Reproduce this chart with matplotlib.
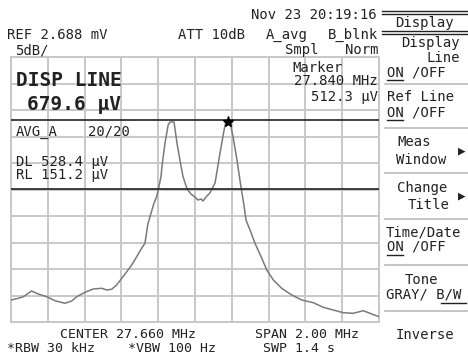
import numpy as np
import matplotlib
matplotlib.use("Agg")
import matplotlib.pyplot as plt
from matplotlib.lines import Line2D

# spectrum analyser screen: levels in dB relative to REF
ref_mv = 2.688
center_mhz = 27.660
span_mhz = 2.00
db_per_div = 5
disp_line_uv = 679.6
ref_line_uv = 151.2
marker_mhz = 27.840

freq = [26.660, 26.700, 26.727, 26.772, 26.808, 26.854, 26.899, 26.953, 26.990,
        27.017, 27.062, 27.107, 27.153, 27.180, 27.207, 27.234, 27.262, 27.289,
        27.316, 27.343, 27.370, 27.388, 27.404, 27.420, 27.436, 27.452, 27.465,
        27.475, 27.481, 27.497, 27.514, 27.524, 27.546, 27.562, 27.578, 27.595,
        27.617, 27.638, 27.660, 27.676, 27.693, 27.703, 27.720, 27.742, 27.769,
        27.796, 27.818, 27.828, 27.850, 27.867, 27.888, 27.910, 27.926, 27.937,
        27.959, 27.986, 28.023, 28.050, 28.086, 28.131, 28.186, 28.240, 28.303,
        28.357, 28.412, 28.466, 28.520, 28.575, 28.611, 28.660]
level = [-45.85, -45.53, -45.23, -44.15, -44.72, -45.23, -45.98, -46.47, -46.04,
         -45.23, -44.40, -43.77, -43.64, -43.96, -43.83, -43.02, -41.75, -40.51,
         -39.25, -37.68, -36.09, -35.15, -31.50, -29.60, -27.70, -26.30, -24.30,
         -22.60, -20.50, -16.23, -12.83, -12.26, -12.26, -16.23, -19.43, -22.58,
         -24.91, -25.85, -26.42, -26.98, -26.79, -27.17, -26.42, -25.60, -23.77,
         -18.11, -13.77, -12.26, -12.26, -15.09, -19.43, -24.53, -27.92, -30.75,
         -32.64, -35.15, -37.98, -40.19, -42.08, -43.64, -44.91, -45.85, -46.36,
         -47.23, -47.74, -48.25, -48.36, -47.87, -48.36, -49.00]

W, H = 468, 362
fig = plt.figure(figsize=(W / 100, H / 100), dpi=100)
fig.patch.set_facecolor("white")

def px(x, y):
    return x / W, 1 - y / H

ax = fig.add_axes([11 / W, 1 - 322 / H, 368 / W, 265 / H])
x0 = center_mhz - span_mhz / 2
x1 = center_mhz + span_mhz / 2
ax.set_xlim(x0, x1)
ax.set_ylim(-10 * db_per_div, 0)
ax.set_xticks(np.linspace(x0, x1, 11))
ax.set_yticks(np.arange(-10 * db_per_div, 1, db_per_div))
ax.grid(True, color="#c8c8c8", lw=1.4)
ax.tick_params(length=0, labelbottom=False, labelleft=False)
for s in ax.spines.values():
    s.set_color("#c8c8c8")
    s.set_linewidth(1.4)

ax.plot(freq, level, color="#7a7a7a", lw=1.1, zorder=3)

dl = 20 * np.log10(disp_line_uv / (ref_mv * 1000))
rl = 20 * np.log10(ref_line_uv / (ref_mv * 1000))
ax.axhline(dl, color="#222222", lw=1.2, zorder=4)
ax.axhline(rl, color="#222222", lw=1.2, zorder=4)
ax.plot([marker_mhz], [np.interp(marker_mhz, freq, level)], marker="*",
        color="black", ms=8, zorder=5)

mono = "DejaVu Sans Mono"
tc = "#222222"

def txt(x, y, s, size=10, ha="left", weight="normal"):
    fx, fy = px(x, y)
    fig.text(fx, fy, s, fontsize=size, ha=ha, va="center", family=mono,
             color=tc, weight=weight)

def hline(xa, xb, y, color="#bbbbbb", lw=1.2):
    fa, fy = px(xa, y)
    fb, _ = px(xb, y)
    fig.add_artist(Line2D([fa, fb], [fy, fy], color=color, lw=lw))

# header
txt(377, 15, "Nov 23 20:19:16", ha="right")
txt(7, 35, "REF %.3f mV" % ref_mv)
txt(178, 35, "ATT 10dB")
txt(266, 35, "A_avg")
txt(378, 35, "B_blnk", ha="right")
txt(15, 50, "%ddB/" % db_per_div)
txt(285, 50, "Smpl")
txt(378, 50, "Norm", ha="right")

# overlays in the graticule
txt(16, 81, "DISP LINE", size=14, weight="bold")
txt(27, 105, "%.1f µV" % disp_line_uv, size=14, weight="bold")
txt(292, 68, "Marker")
txt(378, 81, "%.3f MHz" % marker_mhz, ha="right")
txt(378, 97, "512.3 µV", ha="right")
txt(16, 132, "AVG_A")
txt(88, 132, "20/20")
txt(16, 162, "DL 528.4 µV")
txt(16, 175, "RL %.1f µV" % ref_line_uv)

# footer
txt(60, 335, "CENTER %.3f MHz" % center_mhz, size=9.5)
txt(255, 335, "SPAN %.2f MHz" % span_mhz, size=9.5)
txt(7, 349, "*RBW 30 kHz", size=9.5)
txt(128, 349, "*VBW 100 Hz", size=9.5)
txt(263, 349, "SWP 1.4 s", size=9.5)

# soft-key menu
hline(382, 468, 10.5, color="#222222", lw=1)
hline(382, 468, 13.5, color="#222222", lw=1)
txt(424, 23, "Display", ha="center")
hline(382, 468, 30.5, color="#222222", lw=1)
hline(382, 468, 33.5, color="#222222", lw=1)
txt(460, 43, "Display", ha="right")
txt(460, 58, "Line", ha="right")
txt(387, 72, "ON /OFF")
hline(387, 403, 80, color="#222222", lw=1)
hline(385, 468, 84)
txt(387, 97, "Ref Line")
txt(387, 112, "ON /OFF")
hline(387, 403, 120, color="#222222", lw=1)
hline(385, 468, 128)
txt(397, 142, "Meas")
txt(396, 160, "Window")
txt(462, 151, "▶", size=9, ha="center")
hline(385, 468, 173)
txt(397, 188, "Change")
txt(449, 205, "Title", ha="right")
txt(462, 196, "▶", size=9, ha="center")
hline(385, 468, 219)
txt(386, 233, "Time/Date")
txt(387, 247, "ON /OFF")
hline(387, 403, 255, color="#222222", lw=1)
hline(385, 468, 265)
txt(405, 280, "Tone")
txt(386, 295, "GRAY/ B/W")
hline(441, 466, 303, color="#222222", lw=1)
hline(385, 468, 311)
txt(396, 335, "Inverse")

fig.savefig("out.png", dpi=100, facecolor="white")
